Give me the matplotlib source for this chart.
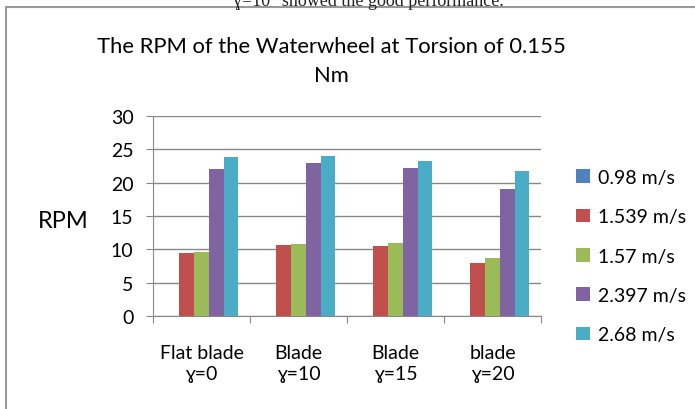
import matplotlib
matplotlib.use('Agg')
from matplotlib import pyplot as plt
from matplotlib.patches import Rectangle
import numpy as np

plt.rcParams['font.family'] = ['Lato', 'DejaVu Sans']

# Data
categories = ['Flat blade\nɣ=0', 'Blade\nɣ=10', 'Blade\nɣ=15', 'blade\nɣ=20']
series = ['0.98 m/s', '1.539 m/s', '1.57 m/s', '2.397 m/s', '2.68 m/s']
rpm_098 = [0, 0, 0, 0]
rpm_1539 = [9.5, 10.7, 10.5, 8.0]
rpm_157 = [9.6, 10.8, 11.0, 8.7]
rpm_2397 = [22.0, 23.0, 22.2, 19.0]
rpm_268 = [23.8, 24.0, 23.2, 21.8]
colors = ['#4F81BD', '#C0504D', '#9BBB59', '#8064A2', '#4BACC6']

values = [rpm_098, rpm_1539, rpm_157, rpm_2397, rpm_268]

fig = plt.figure(figsize=(6.95, 4.1), dpi=100)

# frame around the chart and cut-off text of the page above it
fig.patches.append(Rectangle((6/695, -0.05), 1.0, (410 - 8)/410 + 0.05,
                             transform=fig.transFigure, fill=False,
                             edgecolor='#999999', linewidth=1.5))
fig.text(0.53, 0.998, 'ɣ=10° showed the good performance.', ha='center', va='center',
         fontsize=13, family=['Liberation Serif', 'DejaVu Serif'], color='#222222')

ax = fig.add_axes([153/695, 93/410, 388/695, 200/410])

x = np.arange(len(categories))
w = 0.152
for i, (vals, c) in enumerate(zip(values, colors)):
    ax.bar(x + (i - 2) * w, vals, w, color=c, label=series[i], zorder=3)

ax.set_xlim(-0.5, len(categories) - 0.5)
ax.set_ylim(0, 30)
ax.set_yticks(range(0, 31, 5))
ax.yaxis.grid(True, color='#888888', linewidth=1)
ax.set_axisbelow(True)

ax.set_xticks(np.arange(-0.5, len(categories), 1))
ax.set_xticklabels([])
ax.set_xticks(x, minor=True)
ax.set_xticklabels(categories, minor=True, fontsize=14, linespacing=1.3)
ax.tick_params(axis='x', which='minor', length=0, pad=20)
ax.tick_params(axis='x', which='major', length=5, color='#888888')
ax.tick_params(axis='y', length=5, color='#888888', labelsize=14, pad=9)

for s in ['top', 'right']:
    ax.spines[s].set_visible(False)
for s in ['left', 'bottom']:
    ax.spines[s].set_color('#888888')

ax.set_ylabel('RPM', rotation=0, fontsize=17, ha='right', va='center')
ax.yaxis.set_label_coords(-0.165, 0.475)

ax.set_title('The RPM of the Waterwheel at Torsion of 0.155\nNm', fontsize=15.8,
             pad=25, linespacing=1.6, x=0.46)

ax.legend(loc='center left', bbox_to_anchor=(1.045, 0.30), frameon=False,
          fontsize=14, handlelength=0.7, handleheight=0.7, handletextpad=0.45,
          labelspacing=1.15)

fig.savefig('out.png', dpi=100)
